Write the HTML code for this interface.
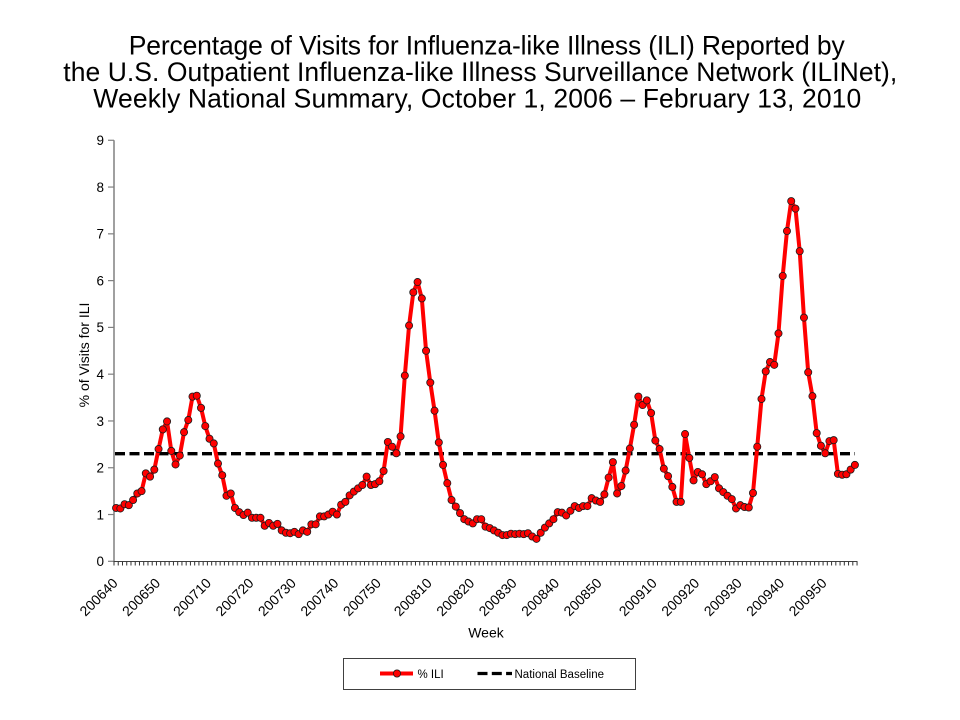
<!DOCTYPE html>
<html>
<head>
<meta charset="utf-8">
<style>
html,body{margin:0;padding:0;background:#fff;}
svg{display:block;font-family:"Liberation Sans",Arial,sans-serif;}
</style>
</head>
<body>
<svg width="960" height="720" viewBox="0 0 960 720" xmlns="http://www.w3.org/2000/svg">
<defs>
<marker id="dot" viewBox="0 0 10 10" refX="5" refY="5" markerUnits="userSpaceOnUse" markerWidth="2.3552" markerHeight="0.21377" preserveAspectRatio="none" overflow="visible">
<circle cx="5" cy="5" r="3.6" fill="#ff0000" stroke="#1a1a1a" stroke-width="0.8"/>
</marker>
</defs>
<rect x="0" y="0" width="960" height="720" fill="#fff"/>

<!-- Title -->
<g font-size="26.5" fill="#000">
<text x="128.7" y="54.3" textLength="716" lengthAdjust="spacing">Percentage of Visits for Influenza-like Illness (ILI) Reported by</text>
<text x="63.3" y="81" textLength="834" lengthAdjust="spacing">the U.S. Outpatient Influenza-like Illness Surveillance Network (ILINet),</text>
<text x="93.3" y="107.7" textLength="768" lengthAdjust="spacing">Weekly National Summary, October 1, 2006 – February 13, 2010</text>
</g>

<!-- Y axis -->
<line x1="114" y1="140.3" x2="114" y2="561.3" stroke="#808080" stroke-width="1.5"/>
<g stroke="#808080" stroke-width="1.2">
<line x1="108" y1="561.3" x2="114" y2="561.3"/>
<line x1="108" y1="514.52" x2="114" y2="514.52"/>
<line x1="108" y1="467.74" x2="114" y2="467.74"/>
<line x1="108" y1="420.96" x2="114" y2="420.96"/>
<line x1="108" y1="374.18" x2="114" y2="374.18"/>
<line x1="108" y1="327.4" x2="114" y2="327.4"/>
<line x1="108" y1="280.62" x2="114" y2="280.62"/>
<line x1="108" y1="233.84" x2="114" y2="233.84"/>
<line x1="108" y1="187.06" x2="114" y2="187.06"/>
<line x1="108" y1="140.28" x2="114" y2="140.28"/>
</g>
<g font-size="13.5" text-anchor="end" fill="#000">
<text x="104" y="566.2">0</text>
<text x="104" y="519.4">1</text>
<text x="104" y="472.6">2</text>
<text x="104" y="425.8">3</text>
<text x="104" y="379">4</text>
<text x="104" y="332.2">5</text>
<text x="104" y="285.5">6</text>
<text x="104" y="238.7">7</text>
<text x="104" y="191.9">8</text>
<text x="104" y="145.1">9</text>
</g>
<text x="89" y="355" font-size="14" text-anchor="middle" transform="rotate(-90 89 355)">% of Visits for ILI</text>

<!-- X axis -->
<line x1="113.5" y1="561.5" x2="857.5" y2="561.5" stroke="#404040" stroke-width="1"/>
<line x1="113.5" y1="563.5" x2="858.5" y2="563.5" stroke="#333" stroke-width="4" stroke-dasharray="1 3.246"/>

<g font-size="14" text-anchor="end" fill="#000">
<text x="118.6" y="584" transform="rotate(-45 118.6 584)">200640</text>
<text x="161.1" y="584" transform="rotate(-45 161.1 584)">200650</text>
<text x="212.0" y="584" transform="rotate(-45 212.0 584)">200710</text>
<text x="254.5" y="584" transform="rotate(-45 254.5 584)">200720</text>
<text x="296.9" y="584" transform="rotate(-45 296.9 584)">200730</text>
<text x="339.4" y="584" transform="rotate(-45 339.4 584)">200740</text>
<text x="381.9" y="584" transform="rotate(-45 381.9 584)">200750</text>
<text x="432.8" y="584" transform="rotate(-45 432.8 584)">200810</text>
<text x="475.3" y="584" transform="rotate(-45 475.3 584)">200820</text>
<text x="517.7" y="584" transform="rotate(-45 517.7 584)">200830</text>
<text x="560.2" y="584" transform="rotate(-45 560.2 584)">200840</text>
<text x="602.6" y="584" transform="rotate(-45 602.6 584)">200850</text>
<text x="657.8" y="584" transform="rotate(-45 657.8 584)">200910</text>
<text x="700.3" y="584" transform="rotate(-45 700.3 584)">200920</text>
<text x="742.8" y="584" transform="rotate(-45 742.8 584)">200930</text>
<text x="785.2" y="584" transform="rotate(-45 785.2 584)">200940</text>
<text x="827.7" y="584" transform="rotate(-45 827.7 584)">200950</text>
</g>
<text x="486" y="637.5" font-size="14" text-anchor="middle">Week</text>

<!-- National baseline -->
<line x1="115" y1="453.7" x2="855" y2="453.7" stroke="#000" stroke-width="3.3" stroke-dasharray="10 4.5"/>

<!-- ILI series -->
<g transform="translate(116.1 561.3) scale(4.246 -46.78)">
<polyline fill="none" stroke="#ff0000" stroke-width="4" vector-effect="non-scaling-stroke" stroke-linejoin="round" marker-start="url(#dot)" marker-mid="url(#dot)" marker-end="url(#dot)" points="0,1.14 1,1.13 2,1.22 3,1.20 4,1.31 5,1.45 6,1.50 7,1.88 8,1.81 9,1.96 10,2.40 11,2.82 12,2.99 13,2.36 14,2.07 15,2.26 16,2.76 17,3.02 18,3.52 19,3.54 20,3.28 21,2.89 22,2.62 23,2.52 24,2.09 25,1.84 26,1.40 27,1.45 28,1.14 29,1.05 30,0.99 31,1.04 32,0.93 33,0.93 34,0.93 35,0.76 36,0.82 37,0.76 38,0.80 39,0.66 40,0.61 41,0.60 42,0.63 43,0.58 44,0.66 45,0.63 46,0.79 47,0.79 48,0.96 49,0.96 50,1.00 51,1.06 52,1.00 53,1.21 54,1.27 55,1.41 56,1.49 57,1.56 58,1.63 59,1.81 60,1.63 61,1.65 62,1.71 63,1.93 64,2.55 65,2.45 66,2.31 67,2.67 68,3.97 69,5.04 70,5.75 71,5.97 72,5.62 73,4.50 74,3.82 75,3.22 76,2.54 77,2.06 78,1.67 79,1.31 80,1.17 81,1.03 82,0.90 83,0.85 84,0.81 85,0.90 86,0.90 87,0.74 88,0.71 89,0.66 90,0.61 91,0.56 92,0.56 93,0.59 94,0.58 95,0.59 96,0.58 97,0.60 98,0.53 99,0.48 100,0.61 101,0.72 102,0.81 103,0.90 104,1.05 105,1.04 106,0.98 107,1.08 108,1.18 109,1.14 110,1.18 111,1.18 112,1.35 113,1.30 114,1.27 115,1.43 116,1.79 117,2.12 118,1.45 119,1.61 120,1.94 121,2.41 122,2.92 123,3.52 124,3.34 125,3.44 126,3.17 127,2.58 128,2.40 129,1.98 130,1.82 131,1.59 132,1.27 133,1.27 134,2.72 135,2.21 136,1.73 137,1.91 138,1.86 139,1.65 140,1.71 141,1.80 142,1.56 143,1.48 144,1.40 145,1.33 146,1.13 147,1.20 148,1.16 149,1.15 150,1.46 151,2.45 152,3.47 153,4.06 154,4.26 155,4.20 156,4.87 157,6.10 158,7.06 159,7.70 160,7.54 161,6.63 162,5.21 163,4.04 164,3.53 165,2.74 166,2.47 167,2.31 168,2.57 169,2.59 170,1.87 171,1.85 172,1.86 173,1.96 174,2.06"/>
</g>

<!-- Legend -->
<rect x="343.5" y="658.5" width="292" height="31" fill="#fff" stroke="#404040" stroke-width="1"/>
<line x1="380" y1="673.5" x2="413" y2="673.5" stroke="#ff0000" stroke-width="4"/>
<circle cx="397" cy="673.5" r="3.6" fill="#ff0000" stroke="#1a1a1a" stroke-width="0.8"/>
<text x="417.5" y="677.8" font-size="11.5">% ILI</text>
<line x1="477.5" y1="673.5" x2="512" y2="673.5" stroke="#000" stroke-width="3.3" stroke-dasharray="10 4.3"/>
<text x="514.5" y="677.8" font-size="11.5">National Baseline</text>
</svg>
</body>
</html>
